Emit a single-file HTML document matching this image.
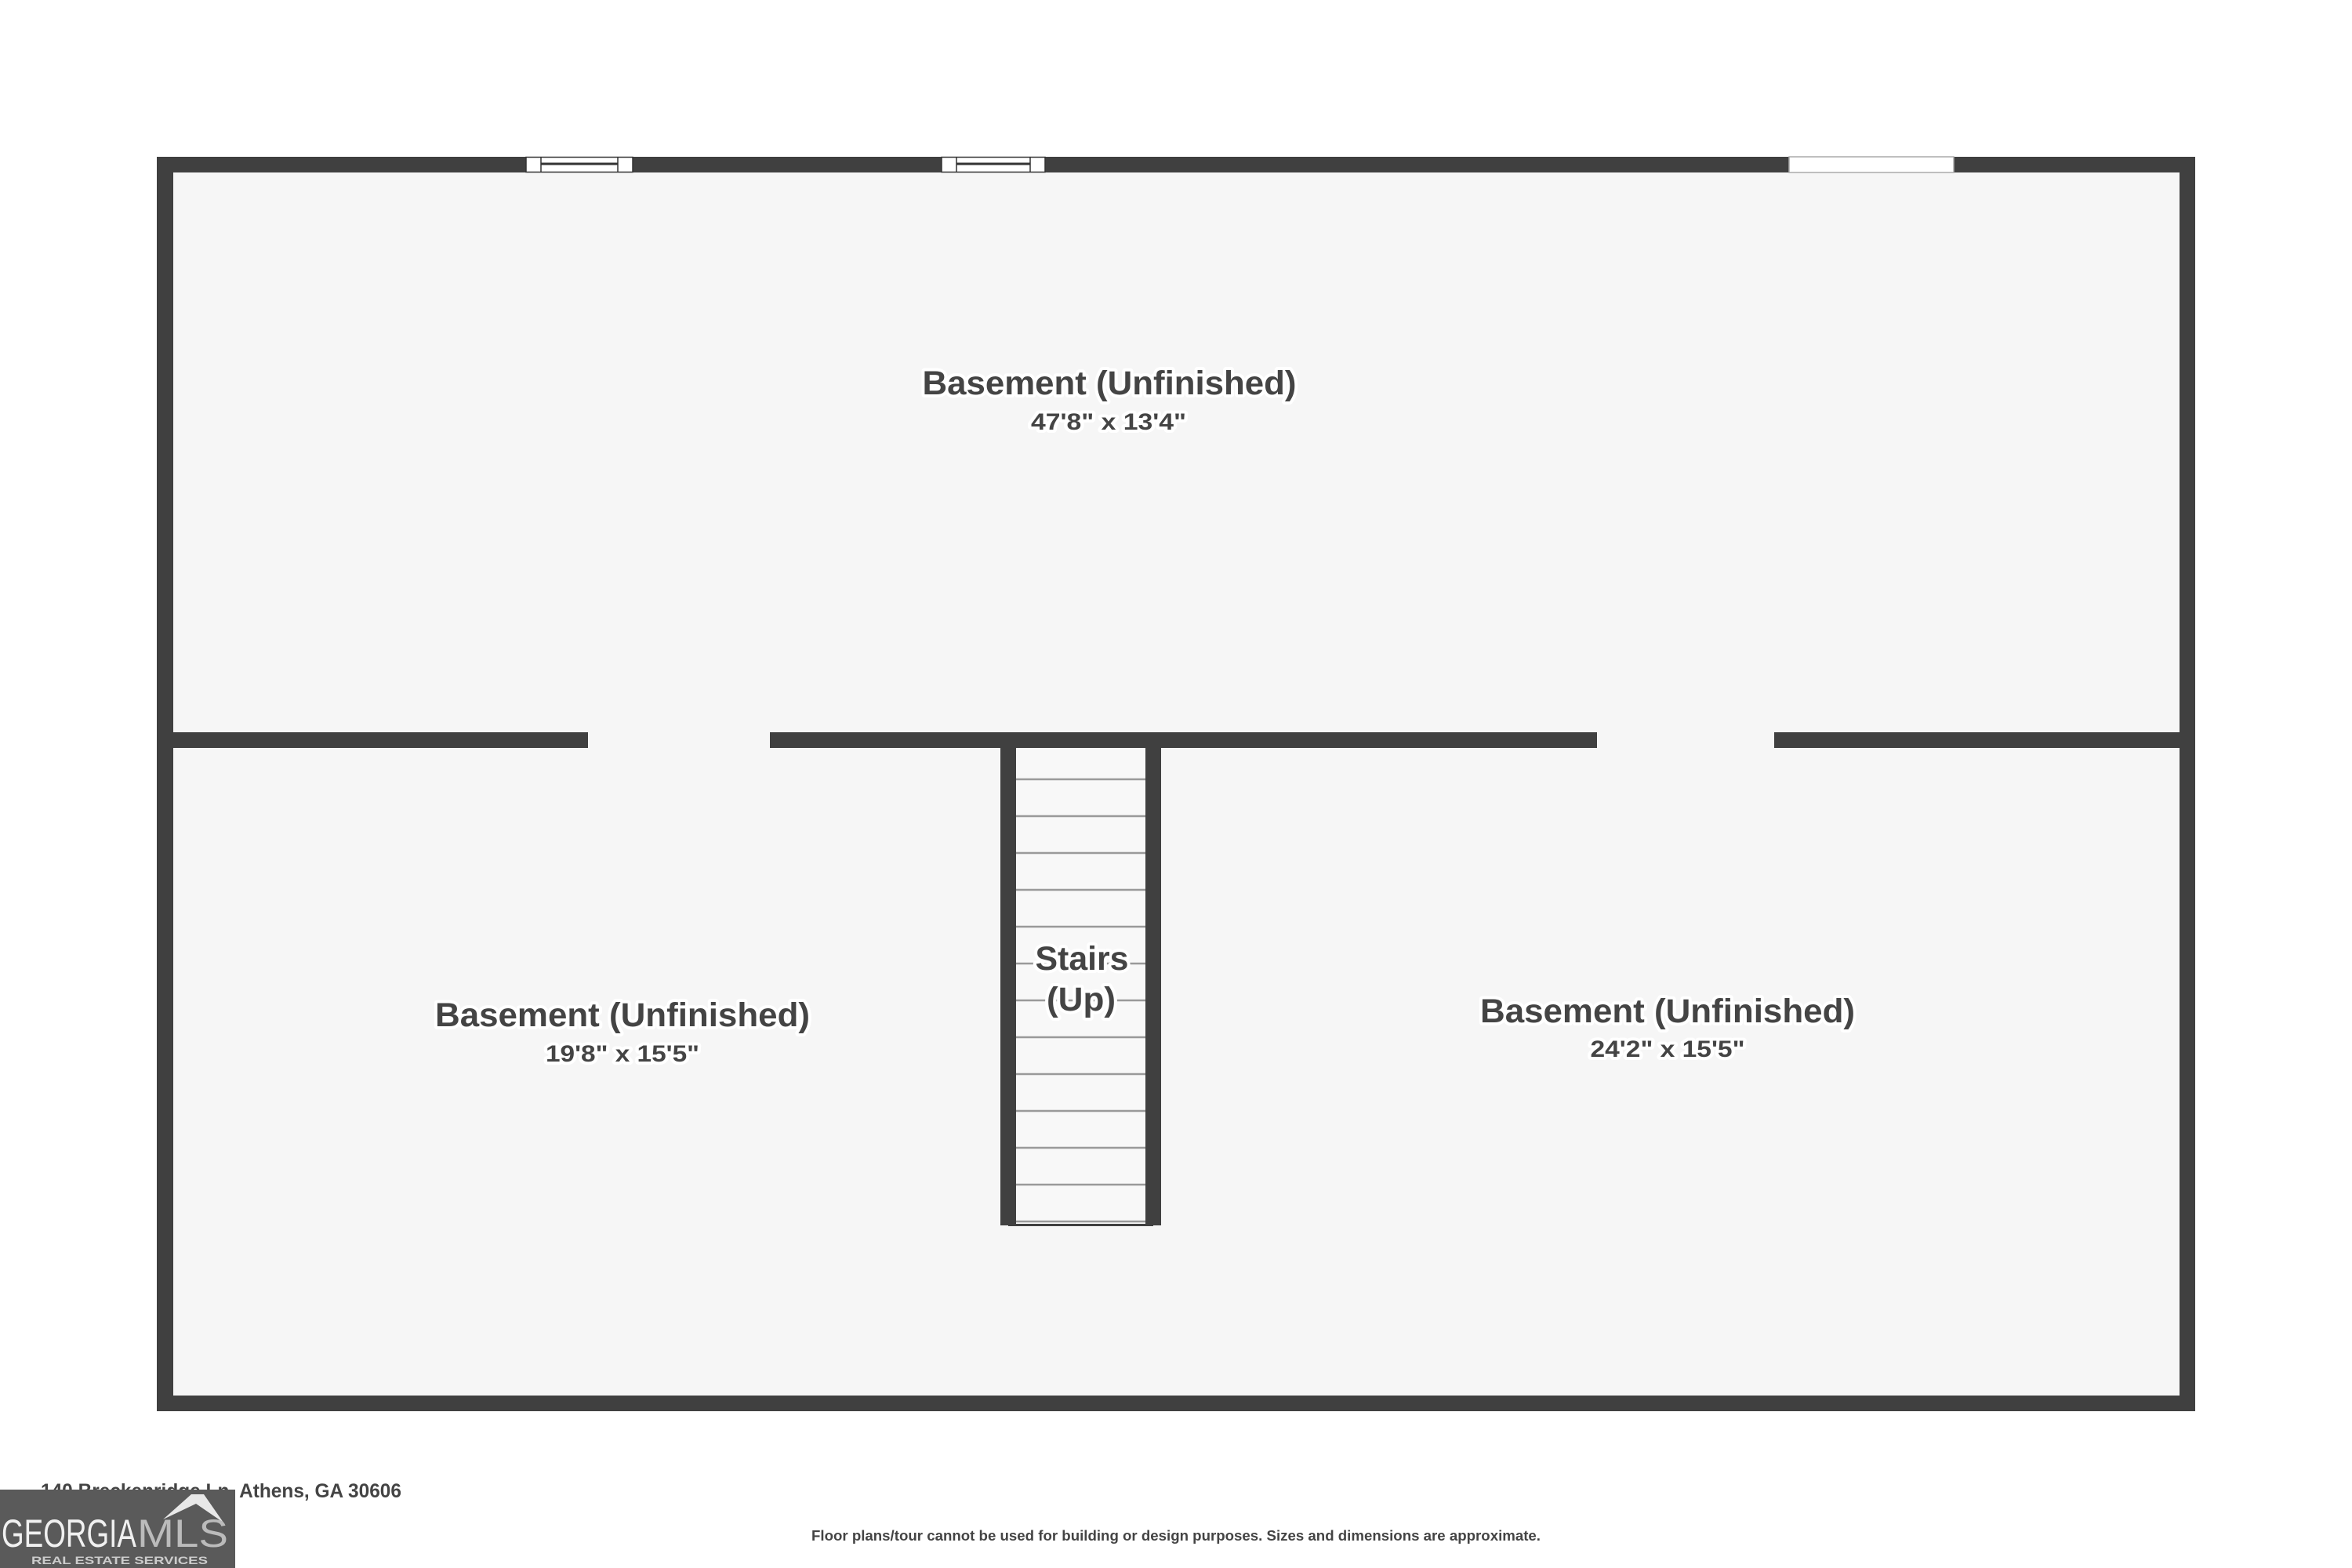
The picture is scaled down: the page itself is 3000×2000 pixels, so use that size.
<!DOCTYPE html>
<html><head><meta charset="utf-8"><style>html,body{margin:0;padding:0;background:#fff}svg{display:block}</style></head>
<body>
<svg width="3000" height="2000" viewBox="0 0 3000 2000" xmlns="http://www.w3.org/2000/svg" font-family="'Liberation Sans', sans-serif" font-weight="bold">
<rect width="3000" height="2000" fill="#fff"/>
<!-- interior -->
<rect x="200" y="200" width="2600" height="1600" fill="#f6f6f6"/>
<!-- outer walls -->
<rect x="200" y="200" width="2600" height="20" fill="#404040"/>
<rect x="200" y="1780" width="2600" height="20" fill="#404040"/>
<rect x="200" y="200" width="21" height="1600" fill="#404040"/>
<rect x="2780" y="200" width="20" height="1600" fill="#404040"/>
<!-- windows -->
<g stroke="#333" stroke-width="1.5" fill="#fff">
<rect x="671" y="200.5" width="136" height="19"/>
<line x1="690" y1="200" x2="690" y2="220"/><line x1="788" y1="200" x2="788" y2="220"/>
<line x1="690" y1="209" x2="788" y2="209" stroke-width="3"/>
<rect x="1201" y="200.5" width="132" height="19"/>
<line x1="1220" y1="200" x2="1220" y2="220"/><line x1="1314" y1="200" x2="1314" y2="220"/>
<line x1="1220" y1="209" x2="1314" y2="209" stroke-width="3"/>
</g>
<rect x="2282" y="200" width="210" height="20" fill="#fff" stroke="#aaa" stroke-width="1.5"/>
<!-- middle walls -->
<rect x="201" y="934" width="549" height="20" fill="#404040"/>
<rect x="982" y="934" width="1055" height="20" fill="#404040"/>
<rect x="2263" y="934" width="517" height="20" fill="#404040"/>
<!-- stairs -->
<rect x="1296" y="954" width="165" height="607" fill="#f8f8f8"/>
<g stroke="#9a9a9a" stroke-width="2.5">
<line x1="1296" y1="994" x2="1461" y2="994"/><line x1="1296" y1="1041" x2="1461" y2="1041"/>
<line x1="1296" y1="1088" x2="1461" y2="1088"/><line x1="1296" y1="1135" x2="1461" y2="1135"/>
<line x1="1296" y1="1182" x2="1461" y2="1182"/><line x1="1296" y1="1229" x2="1461" y2="1229"/>
<line x1="1296" y1="1276" x2="1461" y2="1276"/><line x1="1296" y1="1323" x2="1461" y2="1323"/>
<line x1="1296" y1="1370" x2="1461" y2="1370"/><line x1="1296" y1="1417" x2="1461" y2="1417"/>
<line x1="1296" y1="1464" x2="1461" y2="1464"/><line x1="1296" y1="1511" x2="1461" y2="1511"/>
<line x1="1296" y1="1558" x2="1461" y2="1558"/>
</g>
<rect x="1276" y="934" width="20" height="629" fill="#404040"/>
<rect x="1461" y="934" width="20" height="629" fill="#404040"/>
<rect x="1286" y="1561" width="185" height="3" fill="#404040"/>
<!-- labels -->
<g fill="#444" text-anchor="middle" stroke="#fff" stroke-width="8" paint-order="stroke" stroke-linejoin="round">
<text x="1415" y="503" font-size="43" textLength="477" lengthAdjust="spacingAndGlyphs">Basement (Unfinished)</text>
<text x="1414" y="548" font-size="30" textLength="198" lengthAdjust="spacingAndGlyphs">47'8" x 13'4"</text>
<text x="794" y="1309" font-size="43" textLength="478" lengthAdjust="spacingAndGlyphs">Basement (Unfinished)</text>
<text x="794" y="1354" font-size="30" textLength="196" lengthAdjust="spacingAndGlyphs">19'8" x 15'5"</text>
<text x="2127" y="1304" font-size="43" textLength="478" lengthAdjust="spacingAndGlyphs">Basement (Unfinished)</text>
<text x="2127" y="1348" font-size="30" textLength="197" lengthAdjust="spacingAndGlyphs">24'2" x 15'5"</text>
<text x="1380" y="1237" font-size="43" textLength="119" lengthAdjust="spacingAndGlyphs">Stairs</text>
<text x="1379" y="1289" font-size="43" textLength="88" lengthAdjust="spacingAndGlyphs">(Up)</text>
</g>
<!-- footer -->
<text x="52" y="1910" font-size="25" fill="#444" textLength="460" lengthAdjust="spacingAndGlyphs">140 Breckenridge Ln, Athens, GA 30606</text>
<rect x="0" y="1900" width="300" height="100" fill="#5a5a5a"/>
<polygon points="208,1938 244,1906 260,1906 285,1942 250,1918" fill="#e8e8e8"/>
<text x="2" y="1973" font-size="50" font-weight="normal" fill="#f0f0f0" textLength="172" lengthAdjust="spacingAndGlyphs">GEORGIA</text>
<text x="175" y="1973" font-size="50" font-weight="normal" fill="#bbb" textLength="116" lengthAdjust="spacingAndGlyphs">MLS</text>
<text x="40" y="1995" font-size="14" fill="#ccc" textLength="225" lengthAdjust="spacingAndGlyphs">REAL ESTATE SERVICES</text>
<text x="1500" y="1965" font-size="18" fill="#444" text-anchor="middle" textLength="930" lengthAdjust="spacingAndGlyphs">Floor plans/tour cannot be used for building or design purposes. Sizes and dimensions are approximate.</text>
</svg>
</body></html>
